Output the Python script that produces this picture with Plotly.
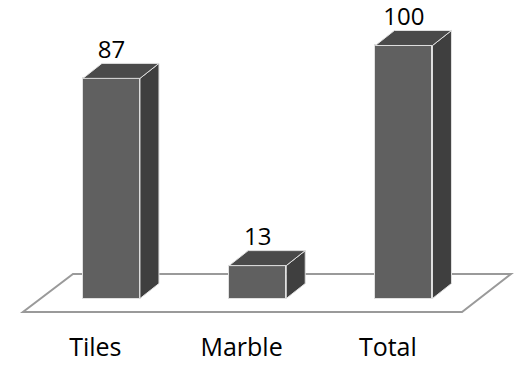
import plotly.graph_objects as go

# Data
categories = ["Tiles", "Marble", "Total"]
values = [87, 13, 100]

# Geometry of the pseudo-3D bars (axis units)
BAR_W = 0.39      # width of the front face
DEPTH_X = 0.13    # horizontal depth offset
DEPTH_Y = 5.93    # vertical depth offset (value units)
LABEL_GAP = 4.4   # gap between the top face and the value label

FRONT = "#606060"
SIDE = "#3f3f3f"
TOP = "#4a4a4a"
EDGE = "#e0e0e0"
FLOOR = "#9a9a9a"
VALUE_FONT = dict(family="Open Sans", size=24, color="black")
CAT_FONT = dict(family="Open Sans", size=25, color="black")

xs = list(range(len(categories)))

fig = go.Figure()

# front faces
fig.add_trace(go.Bar(
    x=xs, y=values, width=BAR_W, base=0,
    marker=dict(color=FRONT, line=dict(color=EDGE, width=1)),
    hoverinfo="skip", showlegend=False,
))

# side and top faces
for x, v in zip(xs, values):
    r = x + BAR_W / 2
    l = x - BAR_W / 2
    fig.add_trace(go.Scatter(
        x=[r, r + DEPTH_X, r + DEPTH_X, r, r],
        y=[0, DEPTH_Y, v + DEPTH_Y, v, 0],
        fill="toself", fillcolor=SIDE, mode="lines",
        line=dict(color=EDGE, width=1), hoverinfo="skip", showlegend=False,
    ))
    fig.add_trace(go.Scatter(
        x=[l, r, r + DEPTH_X, l + DEPTH_X, l],
        y=[v, v, v + DEPTH_Y, v + DEPTH_Y, v],
        fill="toself", fillcolor=TOP, mode="lines",
        line=dict(color=EDGE, width=1), hoverinfo="skip", showlegend=False,
    ))

# value labels above the bars
fig.add_trace(go.Scatter(
    x=xs, y=[v + DEPTH_Y + LABEL_GAP for v in values],
    mode="text", text=[str(v) for v in values], textposition="middle center",
    textfont=VALUE_FONT, cliponaxis=False,
    hoverinfo="skip", showlegend=False,
))

# category labels in front of the floor
fig.add_trace(go.Scatter(
    x=[x - 0.11 for x in xs], y=[-20.4] * len(xs),
    mode="text", text=categories, textposition="middle center",
    textfont=CAT_FONT, cliponaxis=False,
    hoverinfo="skip", showlegend=False,
))

# floor parallelogram, drawn beneath the bars
floor_back, floor_front = 9.68, -5.34
fig.add_shape(
    type="path",
    path=(f"M -0.605 {floor_front} L 2.397 {floor_front} "
          f"L 2.732 {floor_back} L -0.263 {floor_back} Z"),
    xref="x", yref="y", layer="below",
    line=dict(color=FLOOR, width=2), fillcolor="white",
)

fig.update_layout(
    width=523, height=365,
    margin=dict(l=0, r=0, t=0, b=0),
    paper_bgcolor="white", plot_bgcolor="white",
    xaxis=dict(range=[-0.762, 2.814], visible=False, fixedrange=True),
    yaxis=dict(range=[-26.28, 117.98], visible=False, fixedrange=True),
    bargap=0,
)

fig.write_html("out.html")
